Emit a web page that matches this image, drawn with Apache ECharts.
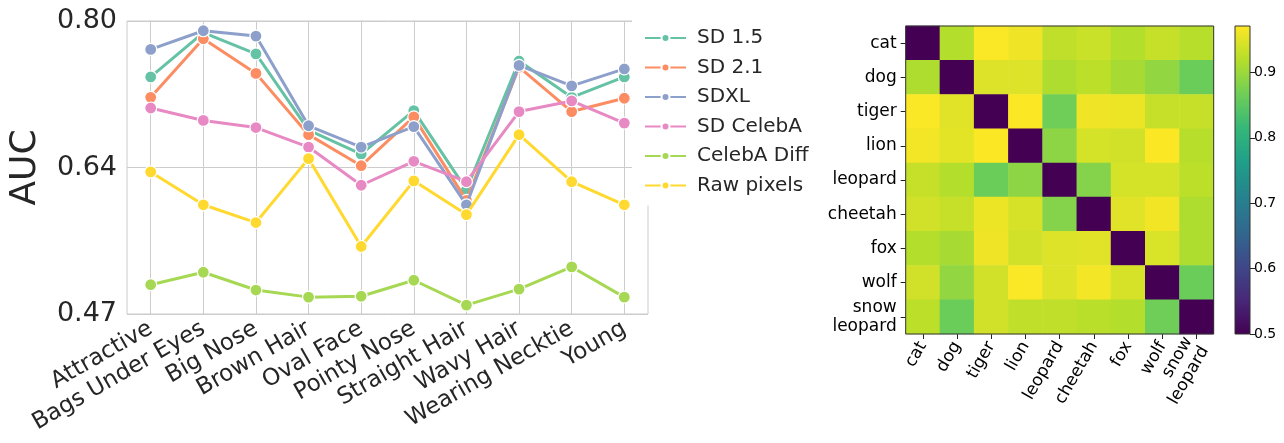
<!DOCTYPE html>
<html>
<head>
<meta charset="utf-8">
<script src="https://cdn.jsdelivr.net/npm/echarts@6/dist/echarts.min.js"></script>
<style>
  html, body { margin: 0; padding: 0; background: #ffffff; }
  #main { width: 1284px; height: 443px; }
</style>
</head>
<body>
<div id="main"></div>
<script>
// ---- Line chart data: AUC per facial attribute ----
const attributes = ['Attractive', 'Bags Under Eyes', 'Big Nose', 'Brown Hair', 'Oval Face',
                    'Pointy Nose', 'Straight Hair', 'Wavy Hair', 'Wearing Necktie', 'Young'];
const sd15       = [0.737, 0.787, 0.763, 0.677, 0.650, 0.699, 0.610, 0.755, 0.714, 0.737];
const sd21       = [0.714, 0.780, 0.741, 0.672, 0.637, 0.692, 0.598, 0.748, 0.698, 0.713];
const sdxl       = [0.768, 0.789, 0.783, 0.682, 0.658, 0.681, 0.593, 0.750, 0.727, 0.746];
const sdCelebA   = [0.702, 0.688, 0.680, 0.658, 0.615, 0.642, 0.619, 0.698, 0.710, 0.685];
const celebADiff = [0.503, 0.517, 0.497, 0.489, 0.490, 0.508, 0.480, 0.498, 0.523, 0.489];
const rawPixels  = [0.630, 0.593, 0.573, 0.645, 0.546, 0.620, 0.582, 0.672, 0.619, 0.593];
const seriesNames = ['SD 1.5', 'SD 2.1', 'SDXL', 'SD CelebA', 'CelebA Diff', 'Raw pixels'];
const aucMin = 0.47;
const aucMax = 0.80;
const aucTickLabels = ['0.47', '0.64', '0.80'];

// ---- Heatmap data: pairwise scores between animal classes ----
const animals = ['cat', 'dog', 'tiger', 'lion', 'leopard', 'cheetah', 'fox', 'wolf', 'snow\nleopard'];
const rowCat          = [0.500, 0.918, 0.969, 0.961, 0.927, 0.934, 0.918, 0.931, 0.920];
const rowDog          = [0.914, 0.500, 0.948, 0.948, 0.914, 0.924, 0.908, 0.893, 0.864];
const rowTiger        = [0.969, 0.950, 0.500, 0.970, 0.867, 0.961, 0.958, 0.931, 0.931];
const rowLion         = [0.963, 0.953, 0.970, 0.500, 0.889, 0.941, 0.939, 0.970, 0.920];
const rowLeopard      = [0.931, 0.918, 0.864, 0.889, 0.500, 0.883, 0.941, 0.941, 0.924];
const rowCheetah      = [0.939, 0.931, 0.958, 0.943, 0.883, 0.500, 0.950, 0.962, 0.914];
const rowFox          = [0.918, 0.908, 0.961, 0.939, 0.947, 0.950, 0.500, 0.945, 0.914];
const rowWolf         = [0.939, 0.893, 0.939, 0.969, 0.947, 0.963, 0.943, 0.500, 0.864];
const rowSnowLeopard  = [0.924, 0.864, 0.939, 0.927, 0.927, 0.922, 0.918, 0.867, 0.500];
const colorMin = 0.5;
const colorMax = 0.971;
const colorbarTicks = [0.5, 0.6, 0.7, 0.8, 0.9];

// ---- Styling ----
const set2 = ['#66c2a5', '#fc8d62', '#8da0cb', '#e78ac3', '#a6d854', '#ffd92f'];
const viridis = ['#440154', '#482878', '#3e4989', '#31688e', '#26828e',
                 '#1f9e89', '#35b779', '#6ece58', '#b5de2b', '#fde725'];
const textDark = '#262626';
const gridGray = '#cccccc';
const FONT = 'DejaVu Sans';

// layout (pixels)
const frame = { left: 127, top: 21, right: 648, bottom: 314 };
const dataArea = { left: 150.7, right: 624.3 };
const hm = { left: 905.7, top: 26, size: 308 };
const cb = { left: 1235, width: 15 };

const heatRows = [rowCat, rowDog, rowTiger, rowLion, rowLeopard, rowCheetah, rowFox, rowWolf, rowSnowLeopard];
const heatData = [];
heatRows.forEach((row, r) => row.forEach((v, c) => heatData.push([c, r, v])));

const lineValues = [sd15, sd21, sdxl, sdCelebA, celebADiff, rawPixels];
const lineSeries = lineValues.map((vals, i) => ({
  name: seriesNames[i],
  type: 'line',
  xAxisIndex: 1,
  yAxisIndex: 1,
  data: vals,
  symbol: 'circle',
  symbolSize: 12,
  lineStyle: { width: 3, color: set2[i] },
  itemStyle: { color: set2[i], borderColor: '#ffffff', borderWidth: 1.2 },
  emphasis: { disabled: true },
  z: 3 + i
}));

// viridis from top (max) to bottom (min) of the colorbar
const gradientStops = viridis.map((c, i) => ({ offset: 1 - i / (viridis.length - 1), color: c })).reverse();

const chart = echarts.init(document.getElementById('main'), null, { renderer: 'canvas' });
chart.setOption({
  animation: false,
  backgroundColor: '#ffffff',
  textStyle: { fontFamily: FONT },
  legend: {
    data: seriesNames,
    orient: 'vertical',
    left: 632,
    top: 18,
    padding: [10, 12, 10, 12],
    itemGap: 9.5,
    itemWidth: 41,
    itemHeight: 10,
    backgroundColor: '#ffffff',
    textStyle: { fontFamily: FONT, fontSize: 20, color: textDark, lineHeight: 20, padding: [0, 0, 0, 6] },
    z: 10
  },
  grid: [
    { left: frame.left, top: frame.top, width: frame.right - frame.left, height: frame.bottom - frame.top,
      show: true, borderColor: gridGray, borderWidth: 1, backgroundColor: 'transparent' },
    { left: dataArea.left, top: frame.top, width: dataArea.right - dataArea.left, height: frame.bottom - frame.top },
    { left: hm.left, top: hm.top, width: hm.size, height: hm.size },
    { left: cb.left, top: hm.top, width: cb.width, height: hm.size }
  ],
  xAxis: [
    { gridIndex: 0, type: 'value', min: 0, max: 1, show: false },
    { gridIndex: 1, type: 'category', data: attributes, boundaryGap: false,
      axisLine: { show: false }, axisTick: { show: false },
      splitLine: { show: true, lineStyle: { color: gridGray, width: 1 } },
      axisLabel: { interval: 0, rotate: 30, fontSize: 23, color: textDark, fontFamily: FONT, margin: 13 } },
    { gridIndex: 2, type: 'category', data: animals,
      axisLine: { show: false },
      axisTick: { show: true, alignWithLabel: true, length: 5, lineStyle: { color: '#222' } },
      splitLine: { show: false },
      axisLabel: { interval: 0, rotate: 60, fontSize: 17, color: '#000', fontFamily: FONT, margin: 9, lineHeight: 19 } },
    { gridIndex: 3, type: 'category', data: ['colorbar'], show: false }
  ],
  yAxis: [
    { gridIndex: 0, type: 'value', min: aucMin, max: aucMax, interval: (aucMax - aucMin) / 2,
      axisLine: { show: false }, axisTick: { show: false },
      splitLine: { show: true, lineStyle: { color: gridGray, width: 1 } },
      axisLabel: { fontSize: 27, color: textDark, fontFamily: FONT, margin: 10,
        formatter: v => aucTickLabels[Math.round((v - aucMin) / ((aucMax - aucMin) / 2))] || '' },
      name: 'AUC', nameLocation: 'middle', nameRotate: 90, nameGap: 83,
      nameTextStyle: { fontSize: 36, color: textDark, fontFamily: FONT } },
    { gridIndex: 1, type: 'value', min: aucMin, max: aucMax, show: false },
    { gridIndex: 2, type: 'category', data: animals, inverse: true,
      axisLine: { show: false },
      axisTick: { show: true, alignWithLabel: true, length: 5, lineStyle: { color: '#222' } },
      splitLine: { show: false },
      axisLabel: { fontSize: 17, color: '#000', fontFamily: FONT, margin: 9, lineHeight: 19 } },
    { gridIndex: 3, type: 'value', min: colorMin, max: colorMax, position: 'right',
      axisLine: { show: false },
      axisTick: { show: true, length: 5, customValues: colorbarTicks, lineStyle: { color: '#222' } },
      splitLine: { show: false },
      axisLabel: { fontSize: 14, color: '#000', fontFamily: FONT, margin: 4,
        customValues: colorbarTicks, formatter: v => v.toFixed(1) } }
  ],
  visualMap: {
    type: 'continuous', show: false, seriesIndex: 6,
    min: colorMin, max: colorMax, inRange: { color: viridis }
  },
  graphic: [
    { type: 'rect', z: 100, silent: true,
      shape: { x: hm.left, y: hm.top, width: hm.size, height: hm.size },
      style: { fill: 'none', stroke: '#333333', lineWidth: 1 } },
    { type: 'rect', z: 100, silent: true,
      shape: { x: cb.left, y: hm.top, width: cb.width, height: hm.size },
      style: { fill: 'none', stroke: '#333333', lineWidth: 1 } }
  ],
  series: [
    ...lineSeries,
    { type: 'heatmap', xAxisIndex: 2, yAxisIndex: 2, data: heatData,
      itemStyle: { borderWidth: 0 }, emphasis: { disabled: true } },
    // colorbar: transparent base up to the colour minimum, gradient span above it
    { type: 'bar', xAxisIndex: 3, yAxisIndex: 3, stack: 'cb', data: [colorMin], barWidth: '100%',
      itemStyle: { color: 'transparent' }, silent: true },
    { type: 'bar', xAxisIndex: 3, yAxisIndex: 3, stack: 'cb', data: [colorMax - colorMin], barWidth: '100%',
      itemStyle: { color: new echarts.graphic.LinearGradient(0, 0, 0, 1, gradientStops) },
      silent: true }
  ]
});
</script>
</body>
</html>
